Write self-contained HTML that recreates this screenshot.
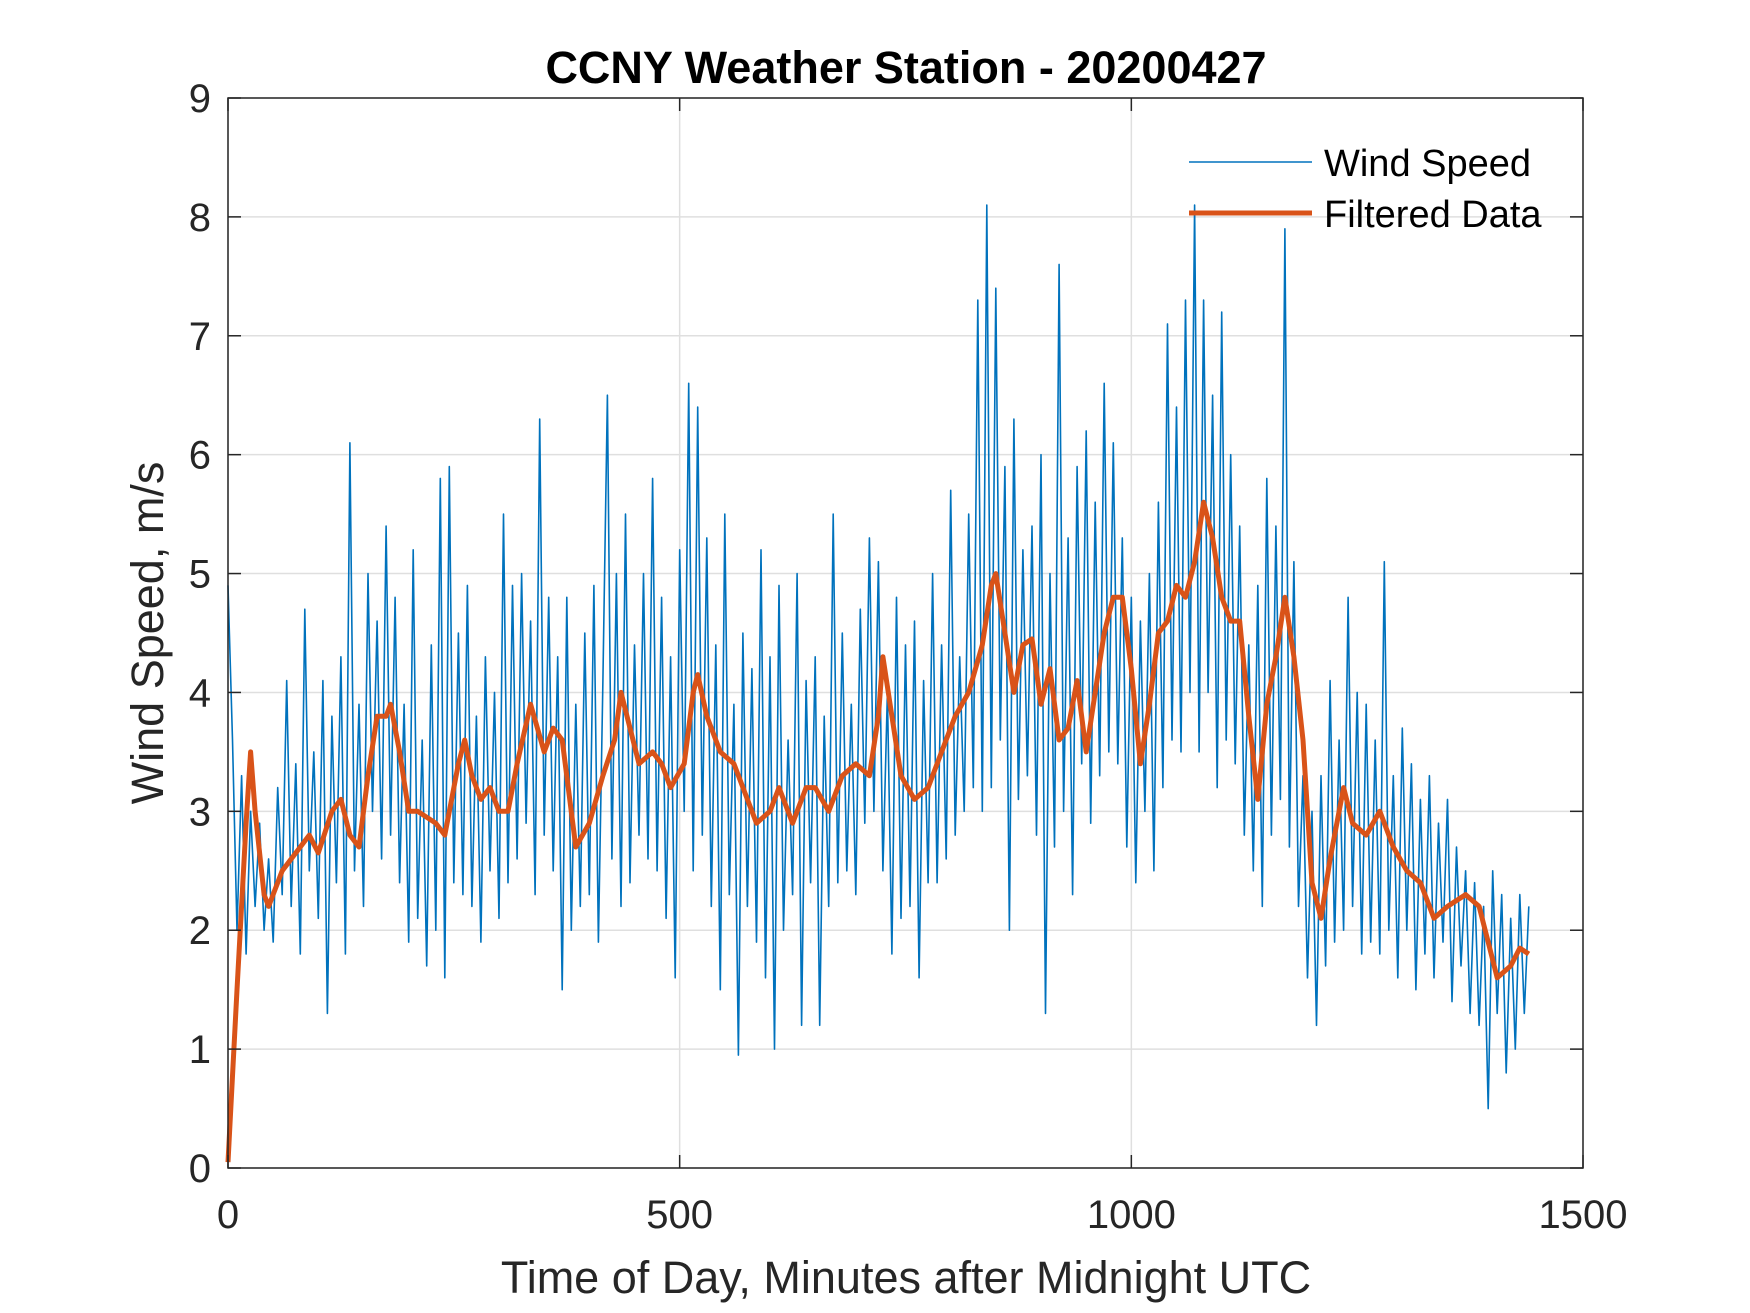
<!DOCTYPE html>
<html><head><meta charset="utf-8">
<style>
html,body{margin:0;padding:0;background:#fff;}
svg{display:block;font-family:"Liberation Sans",Arial,sans-serif;}
</style></head>
<body>
<svg id="chart" width="1750" height="1313" viewBox="0 0 1750 1313" xmlns="http://www.w3.org/2000/svg">
<rect width="1750" height="1313" fill="#fff"/>
<g id="grid"></g>
<g id="series"></g>
<g id="axes"></g>
<text x="906" y="83" font-size="45" font-weight="bold" text-anchor="middle" fill="#000">CCNY Weather Station - 20200427</text>
<text x="906" y="1293" font-size="45" text-anchor="middle" fill="#262626">Time of Day, Minutes after Midnight UTC</text>
<text transform="translate(163,633) rotate(-90)" font-size="45" text-anchor="middle" fill="#262626">Wind Speed, m/s</text>
<g>
  <line x1="1189" y1="162" x2="1312" y2="162" stroke="#0072BD" stroke-width="1.5"/>
  <text x="1324" y="176" font-size="38" fill="#000">Wind Speed</text>
  <line x1="1189" y1="213" x2="1312" y2="213" stroke="#D95319" stroke-width="5"/>
  <text x="1324" y="227" font-size="38" fill="#000">Filtered Data</text>
</g>
</svg>
<script>
const xTicks = [0, 500, 1000, 1500];
const yTicks = [0, 1, 2, 3, 4, 5, 6, 7, 8, 9];
const rawStep = 5;
const rawValues = [
4.9,3.6,2.0,3.3,1.8,3.0,2.2,2.9,2.0,2.6,1.9,3.2,
2.3,4.1,2.2,3.4,1.8,4.7,2.5,3.5,2.1,4.1,1.3,3.8,
2.4,4.3,1.8,6.1,2.5,3.9,2.2,5.0,3.0,4.6,2.6,5.4,
2.8,4.8,2.4,3.9,1.9,5.2,2.1,3.6,1.7,4.4,2.0,5.8,
1.6,5.9,2.4,4.5,2.3,4.9,2.2,3.8,1.9,4.3,2.5,4.0,
2.1,5.5,2.4,4.9,2.6,5.0,2.9,4.6,2.3,6.3,2.8,4.8,
2.5,4.3,1.5,4.8,2.0,3.9,2.2,4.5,2.3,4.9,1.9,4.1,
6.5,2.6,5.0,2.2,5.5,2.4,4.4,2.8,5.0,2.6,5.8,2.5,
4.8,2.1,4.3,1.6,5.2,3.0,6.6,2.5,6.4,2.8,5.3,2.2,
4.4,1.5,5.5,2.3,3.9,0.95,4.5,2.2,4.2,1.9,5.2,1.6,
4.3,1.0,4.9,2.0,3.6,2.3,5.0,1.2,4.1,2.4,4.3,1.2,
3.8,2.2,5.5,2.4,4.5,2.5,3.9,2.3,4.7,2.9,5.3,3.0,
5.1,2.5,4.0,1.8,4.8,2.1,4.4,2.2,4.6,1.6,4.1,2.4,
5.0,2.4,4.4,2.6,5.7,2.8,4.3,3.0,5.5,3.2,7.3,3.0,
8.1,3.2,7.4,3.6,5.9,2.0,6.3,3.1,5.2,3.3,5.4,2.8,
6.0,1.3,5.0,2.7,7.6,3.0,5.3,2.3,5.9,3.4,6.2,2.9,
5.6,3.3,6.6,3.5,6.1,3.4,5.3,2.7,4.8,2.4,4.6,3.0,
5.0,2.5,5.6,3.2,7.1,3.6,6.4,3.5,7.3,4.0,8.1,3.5,
7.3,4.0,6.5,3.2,7.2,3.6,6.0,3.4,5.4,2.8,4.4,2.5,
4.9,2.2,5.8,2.8,5.4,3.1,7.9,2.7,5.1,2.2,3.3,1.6,
3.0,1.2,3.3,1.7,4.1,1.9,3.6,2.0,4.8,2.2,4.0,1.8,
3.9,1.9,3.6,1.8,5.1,2.0,3.3,1.6,3.7,2.0,3.4,1.5,
3.1,1.8,3.3,1.6,2.9,1.9,3.1,1.4,2.7,1.7,2.5,1.3,
2.4,1.2,2.2,0.5,2.5,1.3,2.3,0.8,2.1,1.0,2.3,1.3,
2.2];
const filtMinutes = [0,10,20,25,30,40,45,60,80,90,100,115,125,135,145,155,165,175,180,190,200,210,230,240,255,262,270,280,290,300,310,320,335,350,360,370,385,400,415,428,435,445,455,470,480,490,505,515,520,530,545,560,575,585,600,610,625,640,650,665,680,695,710,720,725,735,745,760,775,790,805,820,835,845,850,860,870,880,890,900,910,920,930,940,950,960,970,980,990,1000,1010,1020,1030,1040,1050,1060,1070,1080,1090,1100,1110,1120,1130,1140,1150,1160,1170,1180,1190,1200,1210,1220,1235,1245,1260,1275,1290,1305,1320,1335,1350,1370,1385,1395,1405,1420,1430,1440];
const filtValues = [0.05,1.5,2.9,3.5,3.0,2.3,2.2,2.5,2.7,2.8,2.65,3.0,3.1,2.8,2.7,3.3,3.8,3.8,3.9,3.5,3.0,3.0,2.9,2.8,3.4,3.6,3.3,3.1,3.2,3.0,3.0,3.4,3.9,3.5,3.7,3.6,2.7,2.9,3.3,3.6,4.0,3.7,3.4,3.5,3.4,3.2,3.4,4.0,4.15,3.8,3.5,3.4,3.1,2.9,3.0,3.2,2.9,3.2,3.2,3.0,3.3,3.4,3.3,3.8,4.3,3.8,3.3,3.1,3.2,3.5,3.8,4.0,4.4,4.9,5.0,4.5,4.0,4.4,4.45,3.9,4.2,3.6,3.7,4.1,3.5,4.0,4.5,4.8,4.8,4.2,3.4,3.9,4.5,4.6,4.9,4.8,5.1,5.6,5.3,4.8,4.6,4.6,3.8,3.1,3.9,4.3,4.8,4.3,3.6,2.4,2.1,2.6,3.2,2.9,2.8,3.0,2.7,2.5,2.4,2.1,2.2,2.3,2.2,1.9,1.6,1.7,1.85,1.8];

const L=228,R=1583,T=98,B=1168;
const xs=v=>L+(v-0)/(1500-0)*(R-L);
const ys=v=>B-(v-0)/(9-0)*(B-T);
const NS='http://www.w3.org/2000/svg';
function mk(tag,attrs,parent){const e=document.createElementNS(NS,tag);for(const k in attrs)e.setAttribute(k,attrs[k]);parent.appendChild(e);return e;}
const grid=document.getElementById('grid'),axes=document.getElementById('axes'),series=document.getElementById('series');

xTicks.forEach(t=>{
  const g=mk('line',{x1:xs(t),x2:xs(t),y1:T,y2:B,stroke:'#dfdfdf','stroke-width':1.5},grid);
  
  
  const a=mk('line',{x1:xs(t),x2:xs(t),y1:B,y2:B-13,stroke:'#262626','stroke-width':1.5},axes);
  
  
  const b=mk('line',{x1:xs(t),x2:xs(t),y1:T,y2:T+13,stroke:'#262626','stroke-width':1.5},axes);
  
  
  const tx=mk('text',{x:xs(t),y:1228,'font-size':40,'text-anchor':'middle',fill:'#262626'},axes);
  tx.textContent=t;
  
  
});
yTicks.forEach(t=>{
  const g=mk('line',{x1:L,x2:R,y1:ys(t),y2:ys(t),stroke:'#dfdfdf','stroke-width':1.5},grid);
  
  
  const a=mk('line',{x1:L,x2:L+13,y1:ys(t),y2:ys(t),stroke:'#262626','stroke-width':1.5},axes);
  
  
  const b=mk('line',{x1:R,x2:R-13,y1:ys(t),y2:ys(t),stroke:'#262626','stroke-width':1.5},axes);
  
  
  const tx=mk('text',{x:211,y:ys(t)+14,'font-size':40,'text-anchor':'end',fill:'#262626'},axes);
  tx.textContent=t;
  
  
});
const frame=mk('rect',{x:L,y:T,width:R-L,height:B-T,fill:'none',stroke:'#262626','stroke-width':1.5},axes);



const rawPts=rawValues.map((v,i)=>xs(i*rawStep).toFixed(1)+','+ys(v).toFixed(1)).join(' ');
const raw=mk('polyline',{points:rawPts,fill:'none',stroke:'#0072BD','stroke-width':1.6,'stroke-linejoin':'round'},series);


const fPts=filtValues.map((v,i)=>xs(filtMinutes[i]).toFixed(1)+','+ys(v).toFixed(1)).join(' ');
const filt=mk('polyline',{points:fPts,fill:'none',stroke:'#D95319','stroke-width':5,'stroke-linejoin':'round'},series);


</script>
</body></html>
